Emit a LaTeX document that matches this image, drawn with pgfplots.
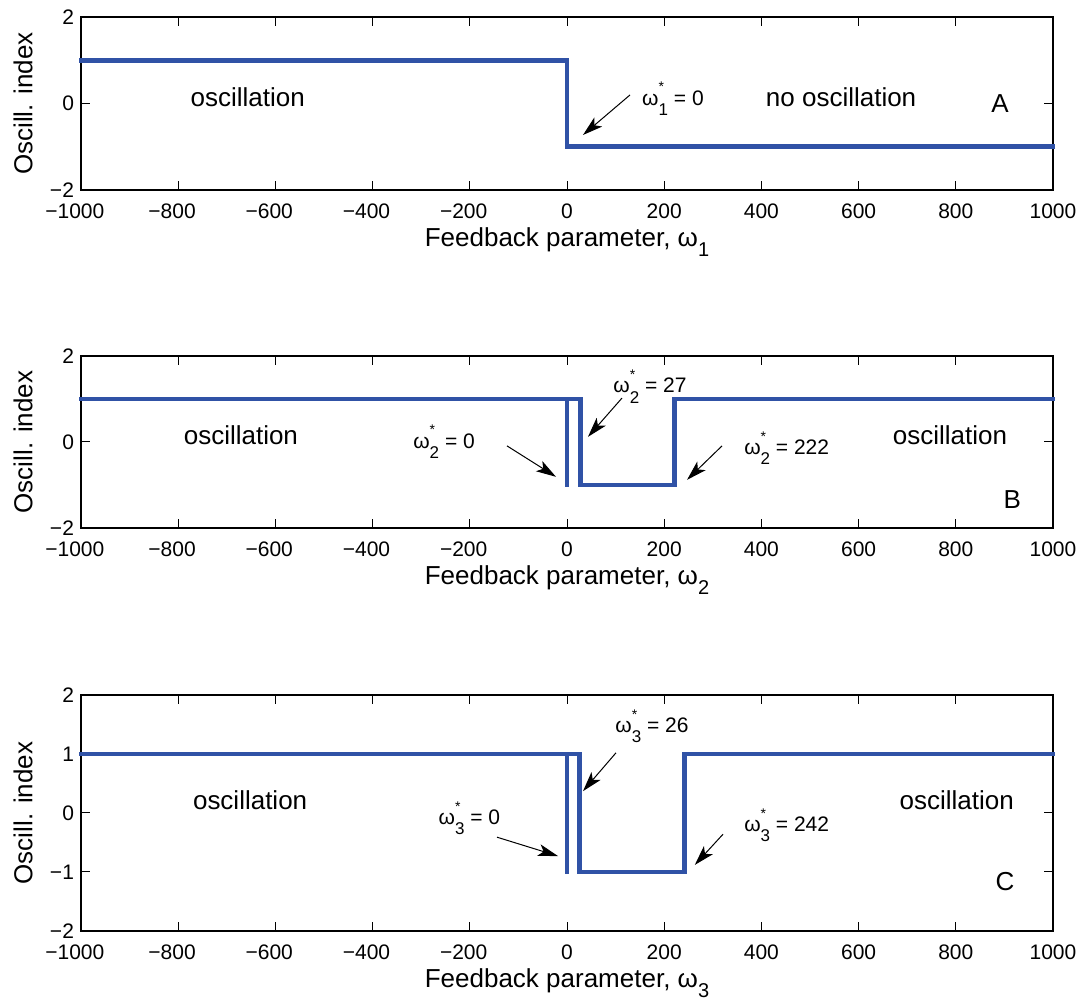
\documentclass[border=0pt]{standalone}
\usepackage{pgfplots}
\pgfplotsset{compat=1.18}
\usepackage{fontspec}
\setmainfont{Liberation Sans}
\usetikzlibrary{arrows.meta}
\definecolor{mblue}{RGB}{48,82,166}
\newcommand{\wl}[2]{ω\rlap{\raisebox{0.62em}{\fontsize{7}{7}\selectfont *}}\raisebox{-0.48em}{\fontsize{8.5}{8.5}\selectfont #1}\ = #2}
\newcommand{\xl}[1]{Feedback parameter, ω\raisebox{-5pt}{\fontsize{10}{10}\selectfont #1}}
\pgfplotsset{
  mystyle/.style={
    scale only axis, width=486pt, anchor=south west,
    xmin=-1000, xmax=1000, ymin=-2, ymax=2,
    xtick={-1000,-800,-600,-400,-200,0,200,400,600,800,1000},
    xticklabels={\llap{−}1000,\llap{−}800,\llap{−}600,\llap{−}400,\llap{−}200,0,200,400,600,800,1000},
    tick align=inside, xtick pos=both, ytick pos=both,
    major tick length=4.5pt,
    tick style={black, line width=0.5pt},
    axis line style={line width=0.9pt},
    ticklabel style={font=\fontsize{10.5}{12}\selectfont},
    xticklabel style={yshift=-3.5pt},
    label style={font=\fontsize{13}{15}\selectfont},
    ylabel style={at={(axis description cs:-0.0597,0.5)}, anchor=center},
    clip=false,
  },
}
\tikzset{
  dline/.style={mblue, line width=2.4pt, line cap=rect, line join=miter},
  arr/.style={-{Stealth[length=10pt,width=6pt,inset=2.5pt]}, line width=0.5pt, black},
  txt/.style={font=\fontsize{13}{15}\selectfont},
  wtxt/.style={font=\fontsize{10.5}{12}\selectfont, anchor=base west, inner sep=0pt},
}
\begin{document}
\begin{tikzpicture}
\useasboundingbox (0,0) rectangle (541.5pt,500.5pt);
% Panel A
\begin{axis}[mystyle, at={(40.5pt,405.5pt)}, height=86.5pt,
  ytick={-2,0,2}, yticklabels={−2,0,2},
  xlabel={\xl{1}},
  ylabel={Oscill. index},
  xlabel style={at={(axis description cs:0.5,-0.3295)}, anchor=base},
]
\addplot[dline, no marks] coordinates {(-1000,1) (0,1) (0,-1) (1000,-1)};
\node[txt] at (axis cs:-657,0.15) {oscillation};
\node[txt] at (axis cs:564,0.15) {no oscillation};
\node[txt] at (axis cs:891,0) {A};
\node[wtxt] at (axis cs:154,-0.035) {\wl{1}{0}};
\draw[arr] (axis cs:129.6,0.197) -- (axis cs:32.9,-0.728);
\end{axis}
% Panel B
\begin{axis}[mystyle, at={(40.5pt,236.5pt)}, height=86pt,
  ytick={-2,0,2}, yticklabels={−2,0,2},
  xlabel={\xl{2}},
  ylabel={Oscill. index},
  xlabel style={at={(axis description cs:0.5,-0.3314)}, anchor=base},
]
\addplot[dline, no marks] coordinates {(-1000,1) (27,1) (27,-1) (222,-1) (222,1) (1000,1)};
\addplot[dline, no marks] coordinates {(0,1) (0,-1)};
\node[txt] at (axis cs:-671,0.16) {oscillation};
\node[txt] at (axis cs:788,0.16) {oscillation};
\node[txt] at (axis cs:916,-1.35) {B};
\node[wtxt] at (axis cs:94.7,1.14) {\wl{2}{27}};
\node[wtxt] at (axis cs:-317,-0.14) {\wl{2}{0}};
\node[wtxt] at (axis cs:364,-0.28) {\wl{2}{222}};
\draw[arr] (axis cs:113,1.02) -- (axis cs:43.2,0.12);
\draw[arr] (axis cs:-123.5,-0.09) -- (axis cs:-22.6,-0.81);
\draw[arr] (axis cs:319,-0.09) -- (axis cs:247,-0.88);
\end{axis}
% Panel C
\begin{axis}[mystyle, at={(40.5pt,35pt)}, height=118pt,
  ytick={-2,-1,0,1,2}, yticklabels={−2,−1,0,1,2},
  xlabel={\xl{3}},
  ylabel={Oscill. index},
  xlabel style={at={(axis description cs:0.5,-0.2415)}, anchor=base},
]
\addplot[dline, no marks] coordinates {(-1000,1) (26,1) (26,-1) (242,-1) (242,1) (1000,1)};
\addplot[dline, no marks] coordinates {(0,1) (0,-1)};
\node[txt] at (axis cs:-652,0.22) {oscillation};
\node[txt] at (axis cs:802,0.22) {oscillation};
\node[txt] at (axis cs:901,-1.17) {C};
\node[wtxt] at (axis cs:98.8,1.36) {\wl{3}{26}};
\node[wtxt] at (axis cs:-265,-0.2) {\wl{3}{0}};
\node[wtxt] at (axis cs:364,-0.32) {\wl{3}{242}};
\draw[arr] (axis cs:100.8,1.02) -- (axis cs:32.9,0.37);
\draw[arr] (axis cs:-144,-0.41) -- (axis cs:-18.5,-0.73);
\draw[arr] (axis cs:321,-0.36) -- (axis cs:263,-0.88);
\end{axis}
\end{tikzpicture}
\end{document}
